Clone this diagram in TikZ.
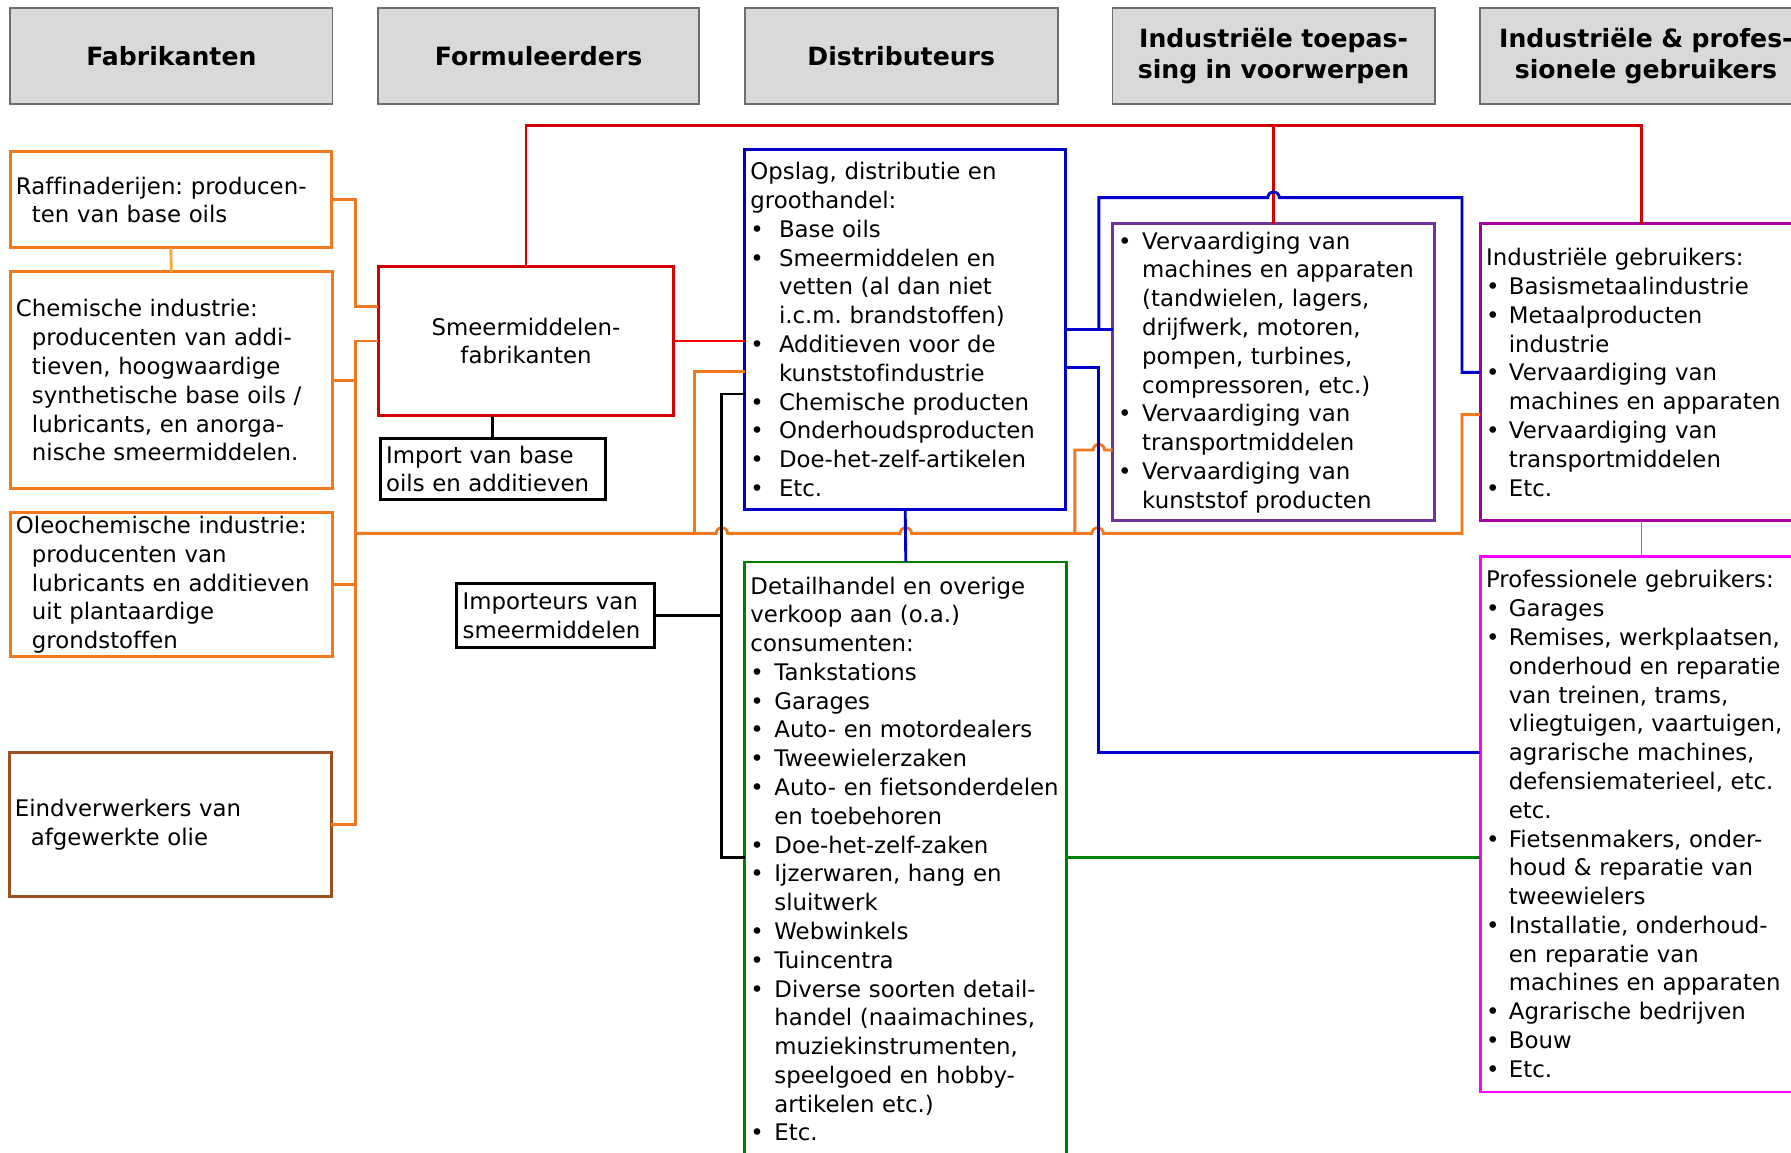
\documentclass[tikz,border=0pt]{standalone}
\usepackage{fontspec}
\setmainfont{DejaVu Sans}[Ligatures=NoCommon]
\frenchspacing
\definecolor{hdrgray}{RGB}{217,217,217}
\definecolor{hdrline}{RGB}{110,110,110}
\definecolor{orng}{RGB}{240,120,30}
\definecolor{lorng}{RGB}{250,170,50}
\definecolor{brwn}{RGB}{156,82,32}
\definecolor{rd}{RGB}{210,0,0}
\definecolor{bl}{RGB}{0,0,204}
\definecolor{prpl}{RGB}{112,48,160}
\definecolor{vlt}{RGB}{160,0,160}
\definecolor{mgnt}{RGB}{255,0,255}
\definecolor{grn}{RGB}{0,128,0}
\newlength{\bulw}
\setlength{\bulw}{20pt}
\newcommand{\bodyfnt}{\fontsize{20}{25.2}\selectfont}
\newcommand{\headfnt}{\fontsize{22}{27}\selectfont\bfseries}
\newcommand{\indt}{\hspace*{14pt}}
\newcommand{\bul}{\makebox[\bulw][l]{\textbullet}}
\newcommand{\cont}{\hspace*{\bulw}}
\begin{document}
\begin{tikzpicture}[x=1pt,y=-1pt,
  hdr/.style={draw=hdrline,line width=1.5pt,fill=hdrgray,anchor=north west,inner sep=0pt,outer sep=0pt,minimum height=84pt,align=center,font=\headfnt},
  blk/.style={draw,line width=2.5pt,anchor=north west,inner xsep=5pt,inner ysep=0pt,outer sep=0pt,align=left,font=\bodyfnt},
  con/.style={line width=2.5pt}]
\useasboundingbox (0,0) rectangle (1568,1009);
\clip (0,0) rectangle (1568,1009);
\node[hdr,text width=282pt] (hfab) at (9,7) {Fabrikanten};
\node[hdr,text width=281pt] (hform) at (331,7) {Formuleerders};
\node[hdr,text width=274pt] (hdist) at (652,7) {Distributeurs};
\node[hdr,text width=282pt] (htoep) at (974,7) {Industriële toepas-\\sing in voorwerpen};
\node[hdr,text width=290pt] (hgebr) at (1296,7) {Industriële \& profes-\\sionele gebruikers};
\node[blk,draw=orng,text width=271pt,minimum height=84pt] (raff) at (9,133) {Raffinaderijen: producen-\\\indt ten van base oils};
\node[blk,draw=orng,text width=272pt,minimum height=190pt] (chem) at (9,238) {Chemische industrie:\\\indt producenten van addi-\\\indt tieven, hoogwaardige\\\indt synthetische base oils /\\\indt lubricants, en anorga-\\\indt nische smeermiddelen.};
\node[blk,draw=orng,text width=272pt,minimum height=126pt] (oleo) at (9,449) {Oleochemische industrie:\\\indt producenten van\\\indt lubricants en additieven\\\indt uit plantaardige\\\indt grondstoffen};
\node[blk,draw=brwn,text width=272pt,minimum height=126pt] (eind) at (8,659) {Eindverwerkers van\\\indt afgewerkte olie};
\node[blk,draw=rd,align=center,text width=249pt,minimum height=131pt] (smeer) at (331,233) {Smeermiddelen-\\fabrikanten};
\node[blk,draw=black,text width=187pt,minimum height=53pt] (imp) at (333,384) {Import van base\\oils en additieven};
\node[blk,draw=black,text width=163pt,minimum height=56pt] (impt) at (400,511) {Importeurs van\\smeermiddelen};
\node[blk,draw=bl,text width=271pt,minimum height=315pt,execute at begin node={\setlength{\bulw}{25pt}}] (opslag) at (652,131) {Opslag, distributie en\\groothandel:\\\bul Base oils\\\bul Smeermiddelen en\\\cont vetten (al dan niet\\\cont i.c.m. brandstoffen)\\\bul Additieven voor de\\\cont kunststofindustrie\\\bul Chemische producten\\\bul Onderhoudsproducten\\\bul Doe-het-zelf-artikelen\\\bul Etc.};
\node[blk,draw=grn,text width=272pt,minimum height=520pt,execute at begin node={\setlength{\bulw}{21pt}}] (detail) at (652,492) {Detailhandel en overige\\verkoop aan (o.a.)\\consumenten:\\\bul Tankstations\\\bul Garages\\\bul Auto- en motordealers\\\bul Tweewielerzaken\\\bul Auto- en fietsonderdelen\\\cont en toebehoren\\\bul Doe-het-zelf-zaken\\\bul Ijzerwaren, hang en\\\cont sluitwerk\\\bul Webwinkels\\\bul Tuincentra\\\bul Diverse soorten detail-\\\cont handel (naaimachines,\\\cont muziekinstrumenten,\\\cont speelgoed en hobby-\\\cont artikelen etc.)\\\bul Etc.};
\node[blk,draw=prpl,text width=272pt,minimum height=260pt,execute at begin node={\setlength{\bulw}{21pt}}] (itoep) at (974,196) {\bul Vervaardiging van\\\cont machines en apparaten\\\cont (tandwielen, lagers,\\\cont drijfwerk, motoren,\\\cont pompen, turbines,\\\cont compressoren, etc.)\\\bul Vervaardiging van\\\cont transportmiddelen\\\bul Vervaardiging van\\\cont kunststof producten};
\node[blk,draw=vlt,text width=272pt,minimum height=260pt] (igeb) at (1296,196) {Industriële gebruikers:\\\bul Basismetaalindustrie\\\bul Metaalproducten\\\cont industrie\\\bul Vervaardiging van\\\cont machines en apparaten\\\bul Vervaardiging van\\\cont transportmiddelen\\\bul Etc.};
\node[blk,draw=mgnt,text width=272pt,minimum height=469pt] (prof) at (1296,487) {Professionele gebruikers:\\\bul Garages\\\bul Remises, werkplaatsen,\\\cont onderhoud en reparatie\\\cont van treinen, trams,\\\cont vliegtuigen, vaartuigen,\\\cont agrarische machines,\\\cont defensiematerieel, etc.\\\cont etc.\\\bul Fietsenmakers, onder-\\\cont houd \& reparatie van\\\cont tweewielers\\\bul Installatie, onderhoud-\\\cont en reparatie van\\\cont machines en apparaten\\\bul Agrarische bedrijven\\\bul Bouw\\\bul Etc.};
\coordinate (obus) at (311,467);
\draw[con,lorng] (raff.south) -- (chem.north);
\draw[con,orng] (raff.east) -| (obus |- 0,268) -- (smeer.west |- 0,268);
\draw[con,orng] (smeer.west) -| (obus |- eind.east) -- (eind.east);
\draw[con,orng] (chem.east) -- (chem.east -| obus);
\draw[con,orng] (oleo.east) -- (oleo.east -| obus);
\draw[con,orng] (obus) -- (627,467) arc[start angle=180,end angle=0,radius=5pt] -- (788,467) arc[start angle=180,end angle=0,radius=5pt] -- (956,467) arc[start angle=180,end angle=0,radius=5pt] -- (1280,467) |- (igeb.west |- 0,363);
\draw[con,orng] (608,467) |- (opslag.west |- 0,325);
\draw[con,orng] (941,467) |- (957,394) arc[start angle=180,end angle=0,radius=5pt] -- (itoep.west |- 0,394);
\draw[con,rd] (smeer.north) |- (igeb.north |- 0,110) -- (igeb.north);
\draw[con,rd] (itoep.north) -- (itoep.north |- 0,110);
\draw[con,red] (smeer.east) -- (smeer.east -| opslag.west);
\draw[con,bl] (opslag.south) -- (detail.north);
\draw[con,bl] (opslag.east) -- (opslag.east -| itoep.west);
\draw[con,bl] (opslag.east -| 962,0) -- (962,173) -- (1110,173) arc[start angle=180,end angle=0,radius=5pt] -- (1280,173) |- (igeb.west);
\draw[con,bl] (opslag.east |- 0,322) -| (962,659) -- (prof.west |- 0,659);
\draw[con,black] (imp.north) -- (imp.north |- smeer.south);
\draw[con,black] (impt.east) -- (632,539);
\draw[con,black] (opslag.west |- 0,345) -| (632,751) -- (detail.west |- 0,751);
\draw[con,grn] (detail.east |- 0,751) -- (prof.west |- 0,751);
\draw[gray,line width=1pt] (igeb.south) -- (prof.north);
\end{tikzpicture}
\end{document}
